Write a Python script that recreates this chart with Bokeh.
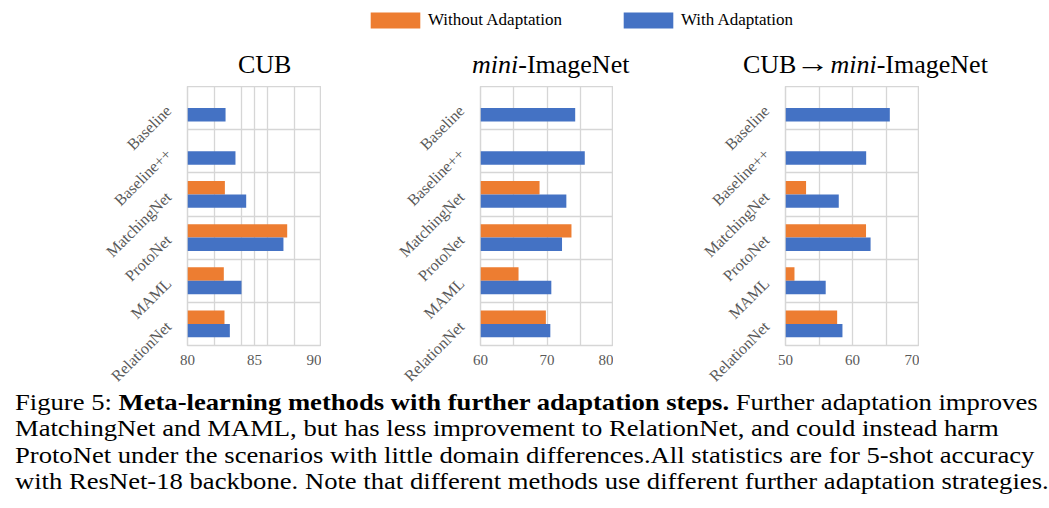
import math
from bokeh.plotting import figure
from bokeh.models import Range1d, FixedTicker, Legend, LegendItem, Div, Spacer
from bokeh.layouts import column, row
from bokeh.embed import file_html
from bokeh.resources import INLINE

methods = ["Baseline", "Baseline++", "MatchingNet", "ProtoNet", "MAML", "RelationNet"]
series_names = ["Without Adaptation", "With Adaptation"]

# None = no bar for that method
cub_without = [None, None, 82.79, 87.44, 82.71, 82.76]
cub_with = [82.84, 83.58, 84.38, 87.16, 84.03, 83.16]
mini_without = [None, None, 68.88, 73.68, 65.72, 69.83]
mini_with = [74.24, 75.68, 72.91, 72.26, 70.65, 70.50]
cross_without = [None, None, 53.07, 62.02, 51.34, 57.71]
cross_with = [65.57, 62.04, 57.95, 62.70, 56.00, 58.50]

cub_ticks = [80, 85, 90]
mini_ticks = [60, 70, 80]
cross_ticks = [50, 60, 70]

ORANGE = "#ED7D31"
BLUE = "#4472C4"
GRID = "#d6d6d6"
LABEL = "#595959"
FONT = "Liberation Serif"


def bars(without, with_):
    wy = [i + 0.345 for i, v in enumerate(without) if v is not None]
    wv = [v for v in without if v is not None]
    by = [i + 0.655 for i, v in enumerate(with_) if v is not None]
    bv = [v for v in with_ if v is not None]
    return wy, wv, by, bv


def panel(ticks, grid_ticks, without, with_, left_border, frame_w):
    xmin, xmax = ticks[0], ticks[-1]
    p = figure(frame_width=frame_w, frame_height=259,
               x_range=Range1d(xmin, xmax), y_range=Range1d(len(methods), 0),
               output_backend="svg", toolbar_location=None,
               min_border_left=left_border, min_border_right=0,
               min_border_top=0, min_border_bottom=45,
               outline_line_color=GRID, outline_line_width=1.5,
               background_fill_color="white", border_fill_color="white")
    wy, wv, by, bv = bars(without, with_)
    p.hbar(y=wy, left=xmin, right=wv, height=0.31, fill_color=ORANGE, line_color=None)
    p.hbar(y=by, left=xmin, right=bv, height=0.31, fill_color=BLUE, line_color=None)

    p.xaxis.ticker = FixedTicker(ticks=ticks)
    p.xgrid.ticker = FixedTicker(ticks=grid_ticks)
    centers = [i + 0.5 for i in range(len(methods))]
    p.yaxis.ticker = FixedTicker(ticks=centers)
    p.yaxis.major_label_overrides = {c: m for c, m in zip(centers, methods)}
    p.ygrid.ticker = FixedTicker(ticks=list(range(len(methods) + 1)))
    p.yaxis.major_label_orientation = math.pi / 4
    for ax in (p.xaxis, p.yaxis):
        ax.axis_line_color = None
        ax.major_tick_line_color = None
        ax.minor_tick_line_color = None
        ax.major_label_text_font = FONT
        ax.major_label_text_color = LABEL
    p.xaxis.major_label_text_font_size = "15px"
    p.yaxis.major_label_text_font_size = "16px"
    p.xaxis.major_label_standoff = 3
    p.yaxis.major_label_standoff = 13
    p.grid.grid_line_color = GRID
    p.grid.grid_line_width = 1.3
    return p


def title_div(html, width, pad_left):
    return Div(text=html, width=width, height=38, margin=(0, 0, 0, 0),
               styles={"font-family": FONT, "font-size": "26px", "line-height": "30px",
                       "color": "black", "padding-left": f"{pad_left}px", "padding-top": "1.5px",
                       "white-space": "nowrap"})


p1 = panel(cub_ticks, [80, 82, 84, 85, 86, 88, 90], cub_without, cub_with, 179, 134)
p2 = panel(mini_ticks, [60, 65, 70, 75, 80], mini_without, mini_with, 159, 133)
p3 = panel(cross_ticks, [50, 55, 60, 65, 70], cross_without, cross_with, 172, 134)

t1 = title_div("CUB", 313, 230)
t2 = title_div("<i>mini</i>-ImageNet", 292, 151)
t3 = title_div("CUB<span style=\"display:inline-block;transform:scaleX(1.3) translateY(-1px);margin:0 4px\">\u2192</span>"
               "<i>mini</i>-ImageNet", 306, 130)

# legend strip (renderers carry real data but it falls outside this strip's ranges)
leg = figure(width=675, height=40, output_backend="svg", toolbar_location=None,
             min_border=0, x_range=Range1d(0, 1), y_range=Range1d(0, 1),
             outline_line_color=None)
leg.axis.visible = False
leg.grid.visible = False
wy, wv, by, bv = bars(cub_without, cub_with)
r1 = leg.hbar(y=wy, left=cub_ticks[0], right=wv, height=0.31, fill_color=ORANGE, line_color=None)
r2 = leg.hbar(y=by, left=cub_ticks[0], right=bv, height=0.31, fill_color=BLUE, line_color=None)
legend = Legend(items=[LegendItem(label=series_names[0], renderers=[r1]),
                       LegendItem(label=series_names[1], renderers=[r2])],
                orientation="horizontal", location="top_left",
                glyph_width=62, glyph_height=20, label_height=20, label_standoff=2,
                spacing=55, padding=0, margin=2, border_line_color=None,
                background_fill_alpha=0, label_text_font=FONT, label_text_font_size="17px",
                label_text_color="black")
leg.add_layout(legend)

caption_html = (
    "Figure 5: <b>Meta-learning methods with further adaptation steps.</b> Further adaptation improves<br>"
    "MatchingNet and MAML, but has less improvement to RelationNet, and could instead harm<br>"
    "ProtoNet under the scenarios with little domain differences.All statistics are for 5-shot accuracy<br>"
    "with ResNet-18 backbone. Note that different methods use different further adaptation strategies."
)
cap = Div(text=caption_html, width=1033, height=108, margin=(0, 0, 0, 0),
          styles={"font-family": FONT, "font-size": "23px", "line-height": "26.3px",
                  "color": "black", "padding-left": "6px", "white-space": "nowrap",
                  "transform": "scaleX(1.158)", "transform-origin": "left top"})

content = column(row(Spacer(width=354, height=40), leg),
                 row(column(t1, p1), column(t2, p2), column(t3, p3)),
                 cap)
layout = column(Spacer(width=1, height=8), row(Spacer(width=8, height=1), content))

open("out.html", "w").write(file_html(layout, INLINE))
